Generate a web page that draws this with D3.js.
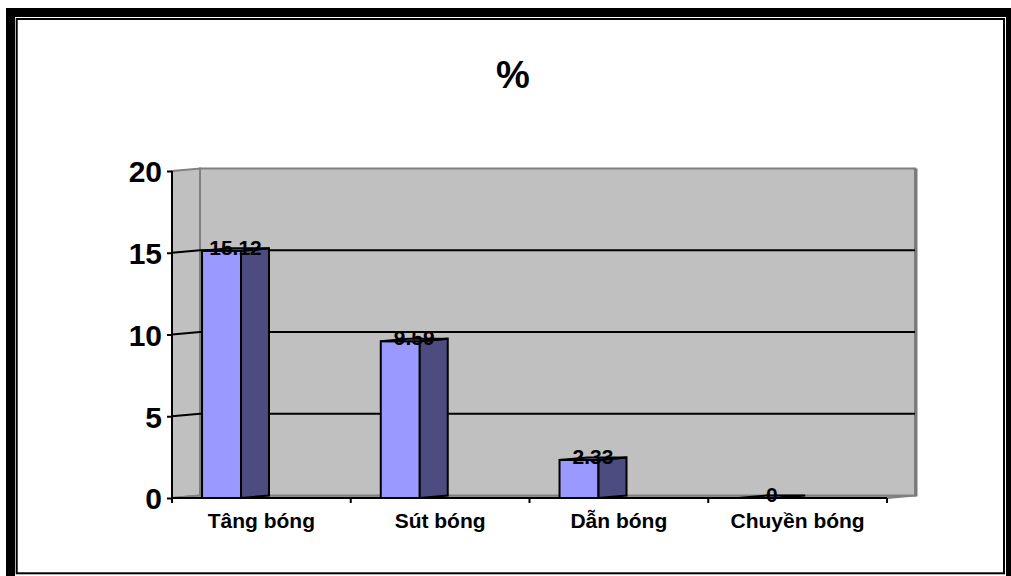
<!DOCTYPE html>
<html>
<head>
<meta charset="utf-8">
<script src="https://cdn.jsdelivr.net/npm/d3@7"></script>
<style>
  body { margin: 0; background: #fff; }
  svg { display: block; font-family: "Liberation Sans", Arial, sans-serif; font-weight: bold; }
</style>
</head>
<body>
<div class="chart"></div>
<script>
var categories = ["Tâng bóng", "Sút bóng", "Dẫn bóng", "Chuyền bóng"];
var values = [15.12, 9.59, 2.33, 0];
var valueLabels = ["15.12", "9.59", "2.33", "0"];
var yTicks = [0, 5, 10, 15, 20];
var gridValues = [5, 10, 15];
var title = "%";

var width = 1011, height = 576;
var depthX = 28, depthY = -2.5;   // offset of the back wall

var svg = d3.select(".chart").append("svg")
    .attr("width", width)
    .attr("height", height);

// double frame
svg.append("rect")
    .attr("x", 10.5).attr("y", 12.5).attr("width", 1000).attr("height", 568)
    .attr("fill", "none").attr("stroke", "#000").attr("stroke-width", 9);
svg.append("rect")
    .attr("x", 16.7).attr("y", 19).attr("width", 987.3).attr("height", 554.3)
    .attr("fill", "none").attr("stroke", "#000").attr("stroke-width", 2);

// title
svg.append("text")
    .attr("x", 513).attr("y", 88)
    .attr("text-anchor", "middle")
    .attr("font-size", 38)
    .text(title);

var y = d3.scaleLinear().domain([0, 20]).range([498, 171]);
var x = d3.scaleBand().domain(categories).range([172, 887]).padding(0);
var bw = x.bandwidth();

var plotLeft = x.range()[0], plotRight = x.range()[1];
var plotTop = y(20), plotBottom = y(0);

// walls
svg.append("polygon")
    .attr("points", [[plotLeft, plotTop], [plotLeft + depthX, plotTop + depthY], [plotLeft + depthX, plotBottom + depthY], [plotLeft, plotBottom]].join(" "))
    .attr("fill", "#c0c0c0").attr("stroke", "#808080").attr("stroke-width", 2);
svg.append("polygon")
    .attr("points", [[plotLeft, plotBottom], [plotLeft + depthX, plotBottom + depthY], [plotRight + depthX, plotBottom + depthY], [plotRight, plotBottom]].join(" "))
    .attr("fill", "#c0c0c0").attr("stroke", "#808080").attr("stroke-width", 2);
svg.append("rect")
    .attr("x", plotLeft + depthX).attr("y", plotTop + depthY)
    .attr("width", plotRight - plotLeft).attr("height", plotBottom - plotTop)
    .attr("fill", "#c0c0c0").attr("stroke", "#808080").attr("stroke-width", 2);
svg.append("line")
    .attr("x1", plotRight + depthX + 1).attr("x2", plotRight + depthX + 1)
    .attr("y1", plotTop + depthY).attr("y2", plotBottom + depthY + 1)
    .attr("stroke", "#7a7a7a").attr("stroke-width", 3);

// gridlines (back wall + left wall)
var grid = svg.append("g").attr("stroke", "#000").attr("stroke-width", 2).attr("fill", "none");
gridValues.forEach(function(v) {
  grid.append("polyline")
      .attr("points", [[plotLeft, y(v)], [plotLeft + depthX, y(v) + depthY], [plotRight + depthX, y(v) + depthY]].join(" "));
});

// bars
var frontOff = bw * 0.168, frontW = bw * 0.218;
var bars = svg.append("g").attr("stroke", "#000").attr("stroke-width", 2).attr("stroke-linejoin", "miter");
categories.forEach(function(c, i) {
  var x0 = x(c) + frontOff, x1 = x0 + frontW;
  var yt = y(values[i]), yb = y(0);
  if (values[i] > 0) {
    bars.append("rect")
        .attr("x", x0).attr("y", yt).attr("width", frontW).attr("height", yb - yt)
        .attr("fill", "#9999ff");
    bars.append("polygon")
        .attr("points", [[x1, yt], [x1 + depthX, yt + depthY], [x1 + depthX, yb + depthY], [x1, yb]].join(" "))
        .attr("fill", "#4c4c80");
  }
  bars.append("polygon")
      .attr("points", [[x0, yt], [x0 + depthX, yt + depthY], [x1 + depthX, yt + depthY], [x1, yt]].join(" "))
      .attr("fill", "#7a7acc");
});

// y axis
var yAxis = d3.axisLeft(y).tickValues(yTicks).tickSize(5).tickPadding(5);
var yg = svg.append("g").attr("transform", "translate(" + plotLeft + ",0)").call(yAxis);
yg.select(".domain").attr("stroke", "#000").attr("stroke-width", 2).attr("d", "M0," + plotTop + "V" + plotBottom);
yg.selectAll(".tick line").attr("stroke", "#000").attr("stroke-width", 2);
yg.selectAll(".tick text")
    .attr("font-size", 30).attr("font-weight", "bold").attr("font-family", "Liberation Sans, Arial, sans-serif")
    .attr("fill", "#000").attr("dy", "0.36em");

// x axis
svg.append("line")
    .attr("x1", plotLeft).attr("x2", plotRight).attr("y1", plotBottom).attr("y2", plotBottom)
    .attr("stroke", "#000").attr("stroke-width", 2);
var boundaries = categories.map(function(c) { return x(c); }).concat([plotRight]);
svg.selectAll(".xtick").data(boundaries).enter().append("line")
    .attr("x1", function(d) { return d; }).attr("x2", function(d) { return d; })
    .attr("y1", plotBottom).attr("y2", plotBottom + 5)
    .attr("stroke", "#000").attr("stroke-width", 2);
svg.selectAll(".xlabel").data(categories).enter().append("text")
    .attr("x", function(d) { return x(d) + bw / 2; })
    .attr("y", 528)
    .attr("text-anchor", "middle")
    .attr("font-size", 21)
    .text(function(d) { return d; });

// value labels
svg.selectAll(".vlabel").data(values).enter().append("text")
    .attr("x", function(d, i) { return x(categories[i]) + frontOff + (frontW + depthX) / 2; })
    .attr("y", function(d) { return y(d) + 4; })
    .attr("text-anchor", "middle")
    .attr("font-size", 21)
    .text(function(d, i) { return valueLabels[i]; });
</script>
</body>
</html>
